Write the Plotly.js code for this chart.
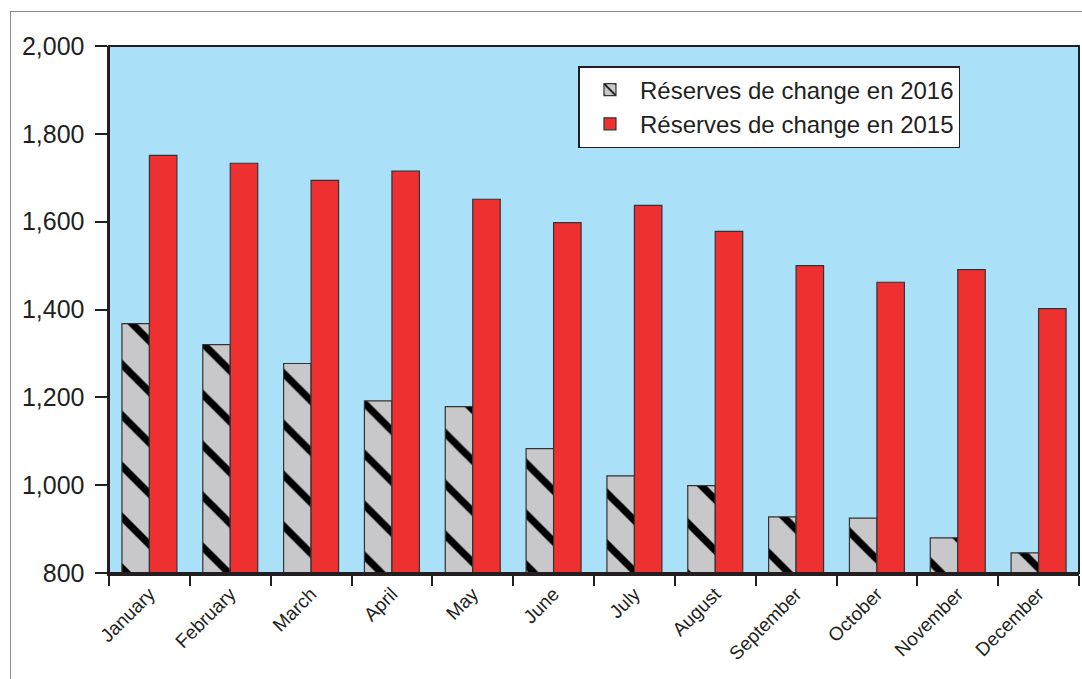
<!DOCTYPE html>
<html><head><meta charset="utf-8">
<script src="https://cdn.plot.ly/plotly-3.0.1.min.js"></script>
<style>
html,body{margin:0;padding:0;background:#fff;}
#frame{position:absolute;left:10px;top:11px;width:1100px;height:700px;border:1px solid #8a8a8a;}
#chart{position:absolute;left:0;top:0;width:1082px;height:679px;}
</style>
</head><body>
<div id="frame"></div>
<div id="chart"></div>
<script>
const months = ["January","February","March","April","May","June","July","August","September","October","November","December"];
const reserves2016 = [1368,1320,1277,1192,1179,1083,1021,999,928,925,880,846];
const reserves2015 = [1751,1733,1694,1715,1651,1598,1637,1578,1500,1462,1491,1402];
const yTicks = [800,1000,1200,1400,1600,1800,2000];
const yTickText = ["800","1,000","1,200","1,400","1,600","1,800","2,000"];

const traces = [
  {type:"bar", name:"Réserves de change en 2016", x:months, y:reserves2016,
   marker:{color:"#c8c8ca", line:{color:"#333333", width:1.2},
     pattern:{shape:"\\", fgcolor:"#000000", fgopacity:1, bgcolor:"#c8c8ca", size:36, solidity:0.2, fillmode:"overlay"}}},
  {type:"bar", name:"Réserves de change en 2015", x:months, y:reserves2015,
   marker:{color:"#ee3130", line:{color:"#333333", width:1.2}}}
];
const layout = {
  width:1082, height:679,
  margin:{l:109, r:3, t:46, b:106},
  paper_bgcolor:"rgba(0,0,0,0)", plot_bgcolor:"#abe0f9",
  font:{family:"Liberation Sans, Arial, sans-serif", color:"#231f20"},
  barmode:"group", bargap:0.32, bargroupgap:0,
  showlegend:true,
  legend:{x:0.484, y:0.962, xanchor:"left", yanchor:"top", bgcolor:"#ffffff",
    bordercolor:"#231f20", borderwidth:1.5, font:{size:24, color:"#231f20"},
    traceorder:"normal", tracegroupgap:0, itemwidth:50},
  xaxis:{type:"category", tickson:"boundaries", ticks:"outside", ticklen:10, tickwidth:2,
    tickcolor:"#231f20", showline:true, linecolor:"#231f20", linewidth:2.5, mirror:false,
    tickangle:-45, tickfont:{size:19, color:"#231f20"}, showgrid:false, zeroline:false,
    range:[-0.5, 11.5]},
  yaxis:{range:[800,2000], tickvals:yTicks, ticktext:yTickText, ticks:"outside", ticklen:12,
    tickwidth:2, tickcolor:"#231f20", showline:true, linecolor:"#231f20", linewidth:2.5,
    tickfont:{size:25, color:"#231f20"}, ticklabelstandoff:5, showgrid:false, zeroline:false},
  shapes:[{type:"rect", xref:"paper", yref:"paper", x0:0, x1:1, y0:0, y1:1,
    line:{color:"#231f20", width:2}, fillcolor:"rgba(0,0,0,0)"}]
};
Plotly.newPlot("chart", traces, layout, {displayModeBar:false, staticPlot:true});
</script>
</body></html>
